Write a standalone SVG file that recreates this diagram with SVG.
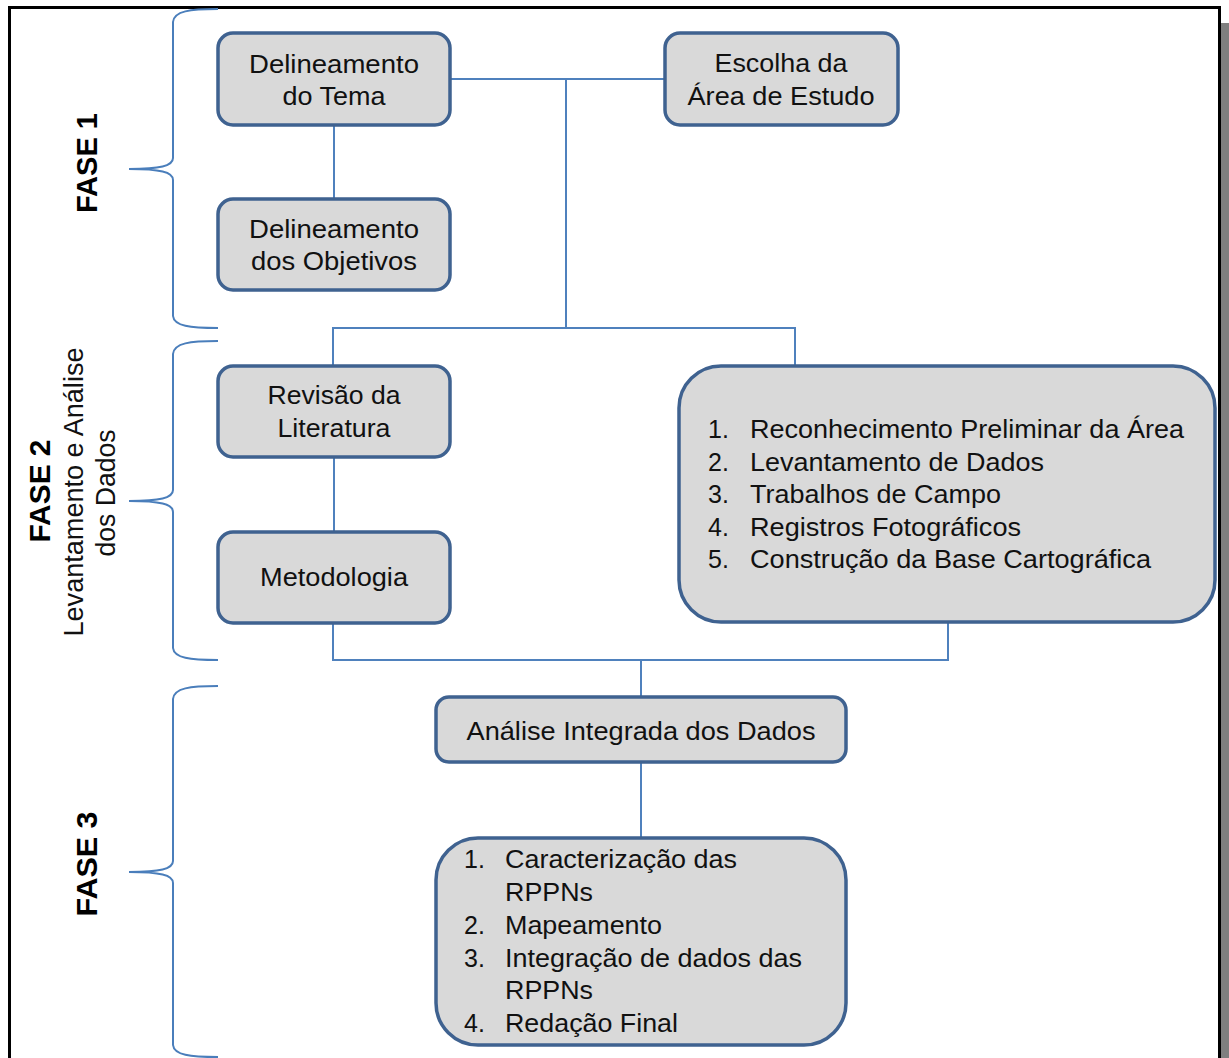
<svg xmlns="http://www.w3.org/2000/svg" width="1229" height="1058" viewBox="0 0 1229 1058">
<style>
.box{fill:#D9D9D9;stroke:#3F6290;stroke-width:3.5}
.conn{fill:none;stroke:#4F81BD;stroke-width:2}
.brace{fill:none;stroke:#4A7EBB;stroke-width:2}
.t{font-family:"Liberation Sans",Arial,sans-serif;font-size:25px;fill:#111}
.c{text-anchor:middle}
.side{font-family:"Liberation Sans",Arial,sans-serif;font-size:27px;fill:#111;text-anchor:middle}
.fase{font-family:"Liberation Sans",Arial,sans-serif;font-size:29px;font-weight:bold;fill:#000;text-anchor:middle}
</style>
<rect x="0" y="0" width="1229" height="1058" fill="#FFFFFF"/>
<g id="frame">
<rect x="1221" y="23" width="8" height="1035" fill="#7F7F7F"/>
<path d="M9.5,1058 V7.5 H1219.5 V1058" fill="none" stroke="#000" stroke-width="3"/>
</g>
<g id="braces">
<path class="brace" d="M218,9 C190,9 174,11 173,22 V158 C173,166 160,169 129,169 C160,169 173,172 173,180 V316 C174,326 190,328 218,328"/>
<path class="brace" d="M218,341 C190,341 174,343 173,354 V490 C173,498 160,501 129,501 C160,501 173,504 173,512 V648 C174,658 190,660 218,660"/>
<path class="brace" d="M218,686 C190,686 174,688 173,699 V861 C173,869 160,872 129,872 C160,872 173,875 173,883 V1045 C174,1055 190,1057 218,1057"/>
</g>
<g id="labels">
<text class="fase" transform="translate(97,163) rotate(-90)" textLength="100" lengthAdjust="spacingAndGlyphs">FASE 1</text>
<text class="fase" transform="translate(50,491) rotate(-90)" textLength="103" lengthAdjust="spacingAndGlyphs">FASE 2</text>
<text class="side" transform="translate(83,492) rotate(-90)" textLength="289" lengthAdjust="spacingAndGlyphs">Levantamento e Análise</text>
<text class="side" transform="translate(115,493) rotate(-90)" textLength="127" lengthAdjust="spacingAndGlyphs">dos Dados</text>
<text class="fase" transform="translate(97,864) rotate(-90)" textLength="105" lengthAdjust="spacingAndGlyphs">FASE 3</text>
</g>
<g id="connectors">
<path class="conn" d="M450,79 H665"/>
<path class="conn" d="M334,125 V199"/>
<path class="conn" d="M566,79 V328"/>
<path class="conn" d="M333,365 V328 H795 V365"/>
<path class="conn" d="M334,457 V532"/>
<path class="conn" d="M333,623 V660 H948 V622"/>
<path class="conn" d="M641,660 V697"/>
<path class="conn" d="M641,762 V838"/>
</g>
<g id="node-tema">
<rect class="box" x="218" y="33" width="232" height="92" rx="15"/>
<text class="t c" x="334" y="73" textLength="170" lengthAdjust="spacingAndGlyphs">Delineamento</text>
<text class="t c" x="334" y="105" textLength="103" lengthAdjust="spacingAndGlyphs">do Tema</text>
</g>
<g id="node-objetivos">
<rect class="box" x="218" y="199" width="232" height="91" rx="15"/>
<text class="t c" x="334" y="238" textLength="170" lengthAdjust="spacingAndGlyphs">Delineamento</text>
<text class="t c" x="334" y="270" textLength="166" lengthAdjust="spacingAndGlyphs">dos Objetivos</text>
</g>
<g id="node-escolha">
<rect class="box" x="665" y="33" width="233" height="92" rx="15"/>
<text class="t c" x="781" y="72" textLength="133" lengthAdjust="spacingAndGlyphs">Escolha da</text>
<text class="t c" x="781" y="105" textLength="187" lengthAdjust="spacingAndGlyphs">Área de Estudo</text>
</g>
<g id="node-revisao">
<rect class="box" x="218" y="366" width="232" height="91" rx="15"/>
<text class="t c" x="334" y="404" textLength="133" lengthAdjust="spacingAndGlyphs">Revisão da</text>
<text class="t c" x="334" y="437" textLength="113" lengthAdjust="spacingAndGlyphs">Literatura</text>
</g>
<g id="node-metodologia">
<rect class="box" x="218" y="532" width="232" height="91" rx="15"/>
<text class="t c" x="334" y="586" textLength="148" lengthAdjust="spacingAndGlyphs">Metodologia</text>
</g>
<g id="node-levantamento">
<rect class="box" x="679" y="366" width="536" height="256" rx="42"/>
<text class="t" x="708" y="438">1.</text><text class="t" x="750" y="438" textLength="434" lengthAdjust="spacingAndGlyphs">Reconhecimento Preliminar da Área</text>
<text class="t" x="708" y="471">2.</text><text class="t" x="750" y="471" textLength="294" lengthAdjust="spacingAndGlyphs">Levantamento de Dados</text>
<text class="t" x="708" y="503">3.</text><text class="t" x="750" y="503" textLength="251" lengthAdjust="spacingAndGlyphs">Trabalhos de Campo</text>
<text class="t" x="708" y="536">4.</text><text class="t" x="750" y="536" textLength="271" lengthAdjust="spacingAndGlyphs">Registros Fotográficos</text>
<text class="t" x="708" y="568">5.</text><text class="t" x="750" y="568" textLength="401" lengthAdjust="spacingAndGlyphs">Construção da Base Cartográfica</text>
</g>
<g id="node-analise">
<rect class="box" x="436" y="697" width="410" height="65" rx="13"/>
<text class="t c" x="641" y="740" textLength="349" lengthAdjust="spacingAndGlyphs">Análise Integrada dos Dados</text>
</g>
<g id="node-fase3">
<rect class="box" x="436" y="838" width="410" height="207" rx="42"/>
<text class="t" x="464" y="868">1.</text><text class="t" x="505" y="868" textLength="232" lengthAdjust="spacingAndGlyphs">Caracterização das</text>
<text class="t" x="505" y="901" textLength="88" lengthAdjust="spacingAndGlyphs">RPPNs</text>
<text class="t" x="464" y="934">2.</text><text class="t" x="505" y="934" textLength="157" lengthAdjust="spacingAndGlyphs">Mapeamento</text>
<text class="t" x="464" y="967">3.</text><text class="t" x="505" y="967" textLength="297" lengthAdjust="spacingAndGlyphs">Integração de dados das</text>
<text class="t" x="505" y="999" textLength="88" lengthAdjust="spacingAndGlyphs">RPPNs</text>
<text class="t" x="464" y="1032">4.</text><text class="t" x="505" y="1032" textLength="173" lengthAdjust="spacingAndGlyphs">Redação Final</text>
</g>
</svg>
